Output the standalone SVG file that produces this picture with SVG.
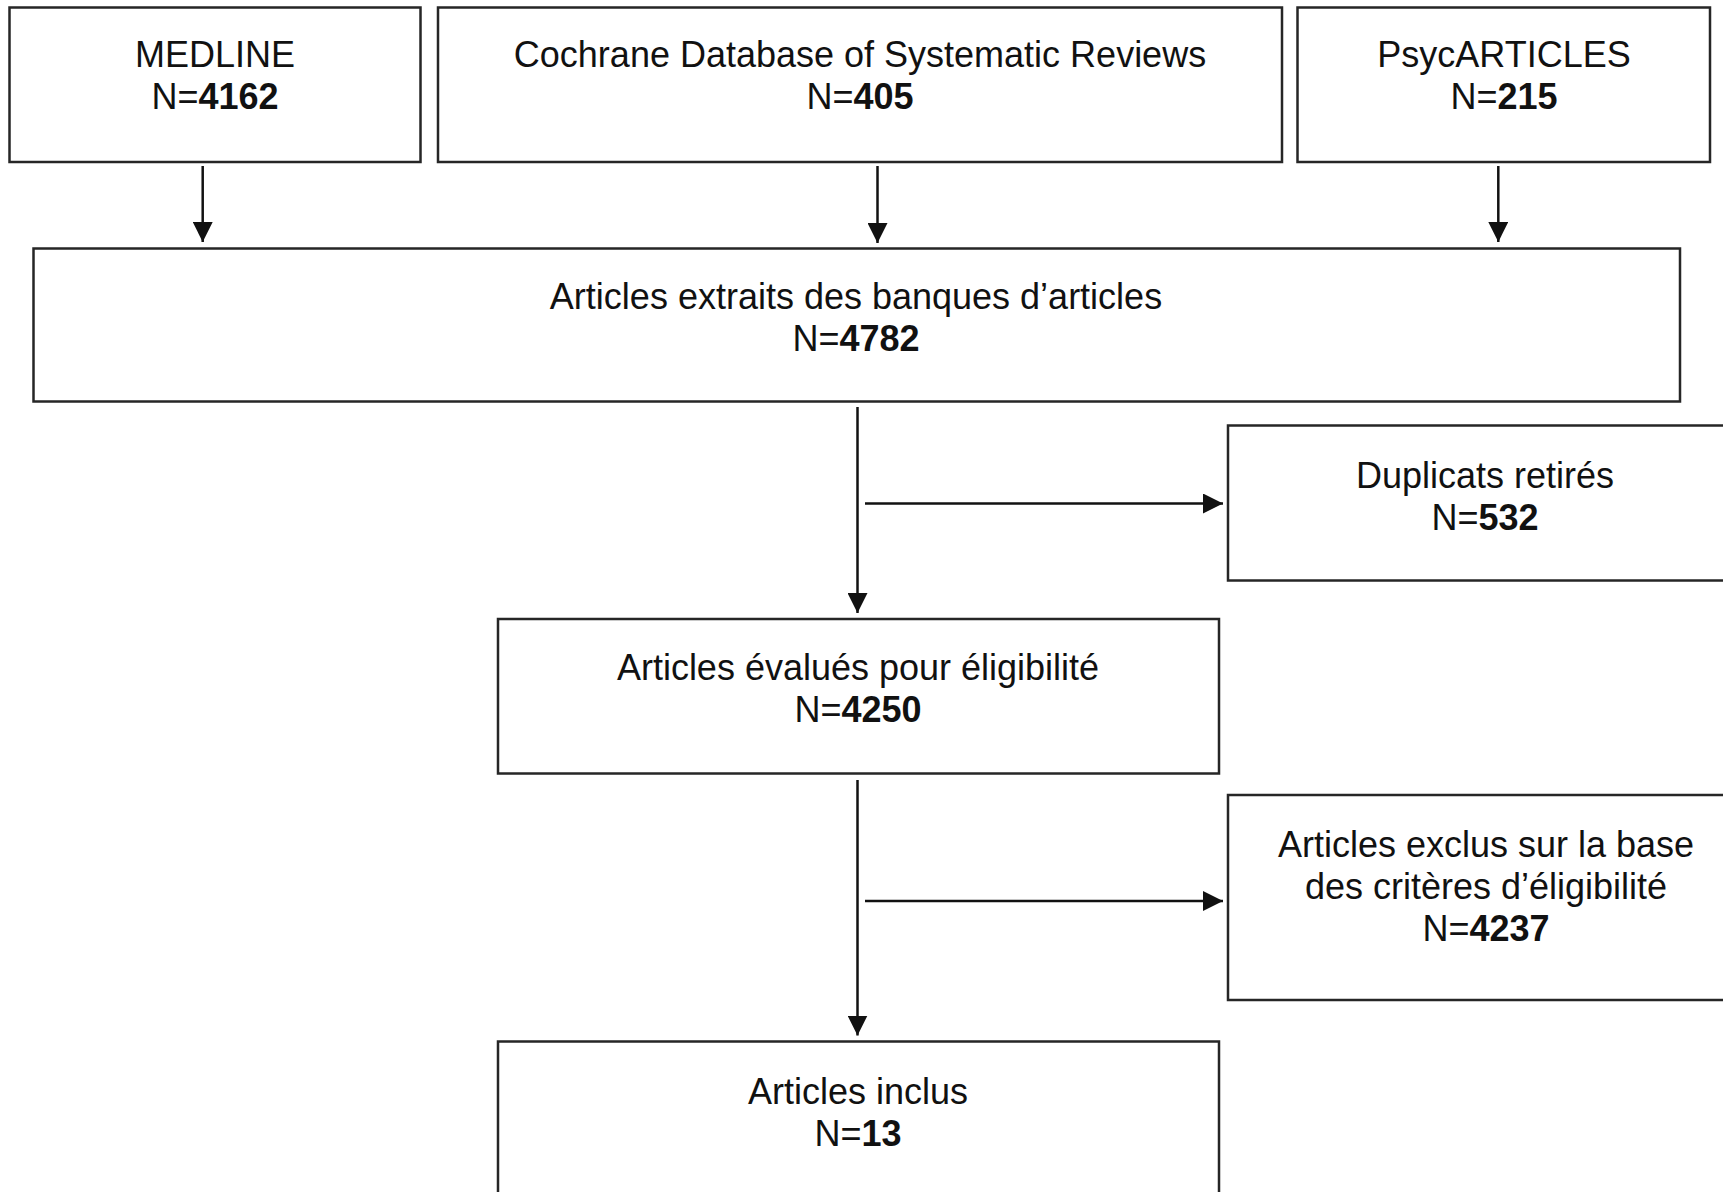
<svg xmlns="http://www.w3.org/2000/svg" width="1723" height="1192" viewBox="0 0 1723 1192">
  <style>
    .box { fill: #ffffff; stroke: #262626; stroke-width: 2.5; }
    .lbl { font-family: "Liberation Sans", Arial, sans-serif; font-size: 36px; fill: #111111; text-anchor: middle; }
    .num { font-weight: bold; }
    .conn { stroke: #111111; stroke-width: 2.5; fill: none; }
  </style>
  <defs>
    <marker id="arrow" markerUnits="userSpaceOnUse" markerWidth="20" markerHeight="20" refX="20" refY="10" orient="auto">
      <path d="M0,0 L20,10 L0,20 z" fill="#111111"/>
    </marker>
  </defs>
  <rect x="0" y="0" width="1723" height="1192" fill="#ffffff"/>

  <g id="medline">
    <rect class="box" x="9.5" y="7.5" width="411" height="154.5"/>
    <text class="lbl" x="215" y="67">MEDLINE</text>
    <text class="lbl" x="215" y="109">N=<tspan class="num">4162</tspan></text>
  </g>
  <g id="cochrane">
    <rect class="box" x="438" y="7.5" width="844" height="154.5"/>
    <text class="lbl" x="860" y="67">Cochrane Database of Systematic Reviews</text>
    <text class="lbl" x="860" y="109">N=<tspan class="num">405</tspan></text>
  </g>
  <g id="psycarticles">
    <rect class="box" x="1297.5" y="7.5" width="412.5" height="154.5"/>
    <text class="lbl" x="1504" y="67">PsycARTICLES</text>
    <text class="lbl" x="1504" y="109">N=<tspan class="num">215</tspan></text>
  </g>
  <g id="extraits">
    <rect class="box" x="33.5" y="248.5" width="1646.5" height="153"/>
    <text class="lbl" x="856" y="309">Articles extraits des banques d’articles</text>
    <text class="lbl" x="856" y="351">N=<tspan class="num">4782</tspan></text>
  </g>
  <g id="duplicats">
    <rect class="box" x="1228" y="425.5" width="500" height="155"/>
    <text class="lbl" x="1485" y="488">Duplicats retirés</text>
    <text class="lbl" x="1485" y="530">N=<tspan class="num">532</tspan></text>
  </g>
  <g id="evalues">
    <rect class="box" x="498" y="619" width="721" height="154.5"/>
    <text class="lbl" x="858" y="680">Articles évalués pour éligibilité</text>
    <text class="lbl" x="858" y="722">N=<tspan class="num">4250</tspan></text>
  </g>
  <g id="exclus">
    <rect class="box" x="1228" y="795" width="500" height="205"/>
    <text class="lbl" x="1486" y="857">Articles exclus sur la base</text>
    <text class="lbl" x="1486" y="899">des critères d’éligibilité</text>
    <text class="lbl" x="1486" y="941">N=<tspan class="num">4237</tspan></text>
  </g>
  <g id="inclus">
    <rect class="box" x="498" y="1041.5" width="721" height="200"/>
    <text class="lbl" x="858" y="1104">Articles inclus</text>
    <text class="lbl" x="858" y="1146">N=<tspan class="num">13</tspan></text>
  </g>

  <g id="connectors">
    <line class="conn" x1="202.7" y1="166" x2="202.7" y2="242" marker-end="url(#arrow)"/>
    <line class="conn" x1="877.5" y1="166" x2="877.5" y2="243" marker-end="url(#arrow)"/>
    <line class="conn" x1="1498.3" y1="166" x2="1498.3" y2="242" marker-end="url(#arrow)"/>
    <line class="conn" x1="857.5" y1="407" x2="857.5" y2="613" marker-end="url(#arrow)"/>
    <line class="conn" x1="865" y1="503.5" x2="1223" y2="503.5" marker-end="url(#arrow)"/>
    <line class="conn" x1="857.5" y1="780" x2="857.5" y2="1035.5" marker-end="url(#arrow)"/>
    <line class="conn" x1="865" y1="901" x2="1223" y2="901" marker-end="url(#arrow)"/>
  </g>
</svg>
